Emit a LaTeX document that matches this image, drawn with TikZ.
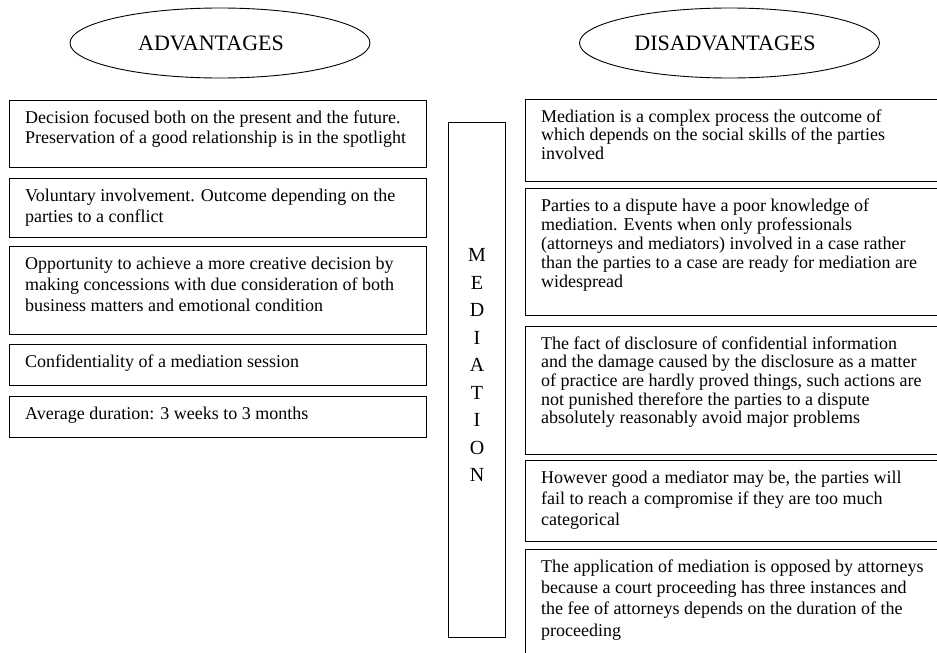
\documentclass[tikz,border=0pt]{standalone}
\usepackage{fontspec}
\setmainfont{Liberation Serif}
\usetikzlibrary{shapes.geometric}
% fixed-height strut on the first line, so the first baseline sits 16pt below the node top
\newcommand{\boxlead}{\rule{0pt}{16pt}}
\begin{document}
\begin{tikzpicture}[x=1pt,y=-1pt,
  frame/.style={draw=black, line width=1.1pt, rectangle, inner sep=0pt, anchor=north west},
  heading/.style={draw=black, line width=0.9pt, ellipse, minimum width=300pt, minimum height=70pt, inner sep=0pt},
  headtext/.style={inner sep=0pt, font=\fontsize{22}{26}\selectfont},
  % box text: 18pt type, line pitch given as the argument
  boxtext/.style={anchor=north west, inner sep=0pt, align=left,
    font=\fontsize{18}{#1}\selectfont, xshift=16pt, yshift=-7pt},
  boxtext/.default=21,
]
\useasboundingbox (0,0) rectangle (937,653);

% headings
\node[heading] (advh) at (220,43) {};
\node[headtext] (advt) at (211,43.8) {ADVANTAGES};
\node[heading] (dish) at (729.5,43) {};
\node[headtext] (dist) at (725,43.8) {DISADVANTAGES};

% advantages column
\node[frame, minimum width=417pt, minimum height=67pt] (adv1) at (9,100) {};
\node[boxtext=20] (adv1t) at (adv1.north west) {\boxlead Decision focused both on the present and the future.\\
Preservation of a good relationship is in the spotlight};

\node[frame, minimum width=417pt, minimum height=59pt] (adv2) at (9,178) {};
\node[boxtext=21] (adv2t) at (adv2.north west) {\boxlead Voluntary involvement. Outcome depending on the\\
parties to a conflict};

\node[frame, minimum width=417pt, minimum height=88pt] (adv3) at (9,246) {};
\node[boxtext=21] (adv3t) at (adv3.north west) {\boxlead Opportunity to achieve a more creative decision by\\
making concessions with due consideration of both\\
business matters and emotional condition};

\node[frame, minimum width=417pt, minimum height=41pt] (adv4) at (9,344) {};
\node[boxtext] (adv4t) at (adv4.north west) {\boxlead Confidentiality of a mediation session};

\node[frame, minimum width=417pt, minimum height=41pt] (adv5) at (9,396) {};
\node[boxtext] (adv5t) at (adv5.north west) {\boxlead Average duration: 3 weeks to 3 months};

% central column
\node[frame, minimum width=57pt, minimum height=515pt] (medcol) at (448,122) {};
\node[anchor=north, inner sep=0pt, align=center, font=\fontsize{20}{27.5}\selectfont]
  (medtext) at ([yshift=-123.6pt]medcol.north) {\boxlead M\\E\\D\\I\\A\\T\\I\\O\\N};

% disadvantages column
\node[frame, minimum width=425pt, minimum height=82pt] (dis1) at (525,99) {};
\node[boxtext=18.4] (dis1t) at (dis1.north west) {\boxlead Mediation is a complex process the outcome of\\
which depends on the social skills of the parties\\
involved};

\node[frame, minimum width=425pt, minimum height=127pt] (dis2) at (525,188) {};
\node[boxtext=19] (dis2t) at (dis2.north west) {\boxlead Parties to a dispute have a poor knowledge of\\
mediation. Events when only professionals\\
(attorneys and mediators) involved in a case rather\\
than the parties to a case are ready for mediation are\\
widespread};

\node[frame, minimum width=425pt, minimum height=128pt] (dis3) at (525,326) {};
\node[boxtext=18.6] (dis3t) at (dis3.north west) {\boxlead The fact of disclosure of confidential information\\
and the damage caused by the disclosure as a matter\\
of practice are hardly proved things, such actions are\\
not punished therefore the parties to a dispute\\
absolutely reasonably avoid major problems};

\node[frame, minimum width=425pt, minimum height=81pt] (dis4) at (525,460) {};
\node[boxtext=21.3] (dis4t) at (dis4.north west) {\boxlead However good a mediator may be, the parties will\\
fail to reach a compromise if they are too much\\
categorical};

\node[frame, minimum width=425pt, minimum height=125pt] (dis5) at (525,549) {};
\node[boxtext=21.3] (dis5t) at (dis5.north west) {\boxlead The application of mediation is opposed by attorneys\\
because a court proceeding has three instances and\\
the fee of attorneys depends on the duration of the\\
proceeding};
\end{tikzpicture}
\end{document}
